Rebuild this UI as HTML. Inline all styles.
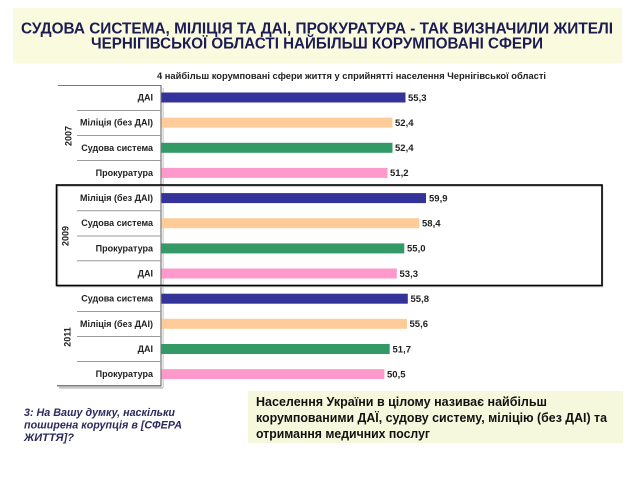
<!DOCTYPE html>
<html><head><meta charset="utf-8"><style>
html,body{margin:0;padding:0;background:#fff;}
svg{display:block;}
text{font-family:"Liberation Sans","DejaVu Sans",sans-serif;}
</style></head><body>
<svg width="640" height="480" viewBox="0 0 640 480" xmlns="http://www.w3.org/2000/svg">
<rect x="0" y="0" width="640" height="480" fill="#ffffff"/>
<!-- Title box -->
<rect x="13" y="8" width="609" height="55.5" fill="#fafadf"/>
<text x="21" y="33.3" font-size="15.5" font-weight="bold" fill="#1c1c55" textLength="592" lengthAdjust="spacingAndGlyphs">СУДОВА СИСТЕМА, МІЛІЦІЯ ТА ДАІ,  ПРОКУРАТУРА - ТАК ВИЗНАЧИЛИ ЖИТЕЛІ</text>
<text x="91" y="48.5" font-size="15.5" font-weight="bold" fill="#1c1c55" textLength="452" lengthAdjust="spacingAndGlyphs">ЧЕРНІГІВСЬКОЇ ОБЛАСТІ НАЙБІЛЬШ КОРУМПОВАНІ СФЕРИ</text>
<!-- Subtitle -->
<text x="157" y="79" font-size="8.8" font-weight="bold" fill="#222" textLength="389" lengthAdjust="spacingAndGlyphs">4 найбільш корумповані сфери життя у сприйнятті населення Чернігівської області</text>

<!-- shadows -->
<line x1="59" y1="387.8" x2="163" y2="387.8" stroke="#c8c8c8" stroke-width="2"/>
<line x1="163.2" y1="88" x2="163.2" y2="388" stroke="#d6d6d6" stroke-width="1.5"/>
<!-- frame -->
<line x1="58" y1="85.5" x2="161" y2="85.5" stroke="#777" stroke-width="1"/>
<line x1="57" y1="385.8" x2="161.5" y2="385.8" stroke="#555" stroke-width="1.2"/>
<line x1="161" y1="85" x2="161" y2="386" stroke="#777" stroke-width="1.2"/>
<g stroke="#9a9a9a" stroke-width="1">
<line x1="77" y1="110.5" x2="161" y2="110.5"/>
<line x1="77" y1="135.5" x2="161" y2="135.5"/>
<line x1="77" y1="160.5" x2="161" y2="160.5"/>
<line x1="77" y1="210.8" x2="161" y2="210.8"/>
<line x1="77" y1="236" x2="161" y2="236"/>
<line x1="77" y1="260.8" x2="161" y2="260.8"/>
<line x1="77" y1="311.5" x2="161" y2="311.5"/>
<line x1="77" y1="336.5" x2="161" y2="336.5"/>
<line x1="77" y1="361.5" x2="161" y2="361.5"/>
</g>

<!-- 2009 box -->
<rect x="57.5" y="186" width="545" height="100.5" fill="none" stroke="#c0c0c0" stroke-width="1.5"/>
<rect x="56.5" y="185" width="545.5" height="100.5" fill="none" stroke="#000" stroke-width="1.6"/>

<!-- Year labels -->
<text transform="translate(71.5,136) rotate(-90)" text-anchor="middle" font-size="9" font-weight="bold" fill="#222">2007</text>
<text transform="translate(68.5,236) rotate(-90)" text-anchor="middle" font-size="9" font-weight="bold" fill="#222">2009</text>
<text transform="translate(70.5,337) rotate(-90)" text-anchor="middle" font-size="9" font-weight="bold" fill="#222">2011</text>

<!-- Category labels -->
<g font-size="9" font-weight="bold" fill="#222" text-anchor="end">
<text x="153" y="100.5">ДАІ</text>
<text x="153" y="125.6">Міліція (без ДАІ)</text>
<text x="153" y="150.8">Судова система</text>
<text x="153" y="175.9">Прокуратура</text>
<text x="153" y="201.1">Міліція (без ДАІ)</text>
<text x="153" y="226.2">Судова система</text>
<text x="153" y="251.4">Прокуратура</text>
<text x="153" y="276.6">ДАІ</text>
<text x="153" y="301.7">Судова система</text>
<text x="153" y="326.9">Міліція (без ДАІ)</text>
<text x="153" y="352">ДАІ</text>
<text x="153" y="377.2">Прокуратура</text>
</g>

<!-- Bars -->
<rect x="161.5" y="92.5" width="244" height="10" fill="#333399"/>
<rect x="161.5" y="117.6" width="231" height="10" fill="#ffcc99"/>
<rect x="161.5" y="142.8" width="231" height="10" fill="#339966"/>
<rect x="161.5" y="167.9" width="226" height="10" fill="#ff99cc"/>
<rect x="161.5" y="193.1" width="264.5" height="10" fill="#333399"/>
<rect x="161.5" y="218.2" width="257.8" height="10" fill="#ffcc99"/>
<rect x="161.5" y="243.4" width="242.8" height="10" fill="#339966"/>
<rect x="161.5" y="268.5" width="235.3" height="10" fill="#ff99cc"/>
<rect x="161.5" y="293.7" width="246.3" height="10" fill="#333399"/>
<rect x="161.5" y="318.8" width="245.5" height="10" fill="#ffcc99"/>
<rect x="161.5" y="344" width="228.2" height="10" fill="#339966"/>
<rect x="161.5" y="369.1" width="222.9" height="10" fill="#ff99cc"/>

<!-- Value labels -->
<g font-size="9.5" font-weight="bold" fill="#222">
<text x="408" y="100.8">55,3</text>
<text x="395" y="125.9">52,4</text>
<text x="395" y="151.1">52,4</text>
<text x="390" y="176.2">51,2</text>
<text x="429" y="201.4">59,9</text>
<text x="422" y="226.5">58,4</text>
<text x="407" y="251.7">55,0</text>
<text x="399.5" y="276.8">53,3</text>
<text x="410.5" y="302">55,8</text>
<text x="409.5" y="327.1">55,6</text>
<text x="392.5" y="352.3">51,7</text>
<text x="387" y="377.4">50,5</text>
</g>

<!-- Question text -->
<g font-size="11" font-weight="bold" font-style="italic" fill="#2a2a5c">
<text x="24" y="416" textLength="151" lengthAdjust="spacingAndGlyphs">3: На Вашу думку, наскільки</text>
<text x="24" y="428.5" textLength="158" lengthAdjust="spacingAndGlyphs">поширена корупція в [СФЕРА</text>
<text x="24" y="441">ЖИТТЯ]?</text>
</g>

<!-- Bottom right box -->
<rect x="248" y="391" width="375" height="52" fill="#f6f8dd"/>
<g font-size="12.5" font-weight="bold" fill="#111">
<text x="256" y="406" textLength="291" lengthAdjust="spacingAndGlyphs">Населення України в цілому називає найбільш</text>
<text x="256" y="422" textLength="351" lengthAdjust="spacingAndGlyphs">корумпованими ДАЇ, судову систему, міліцію (без ДАІ) та</text>
<text x="256" y="438" textLength="174" lengthAdjust="spacingAndGlyphs">отримання медичних послуг</text>
</g>
</svg>
</body></html>
